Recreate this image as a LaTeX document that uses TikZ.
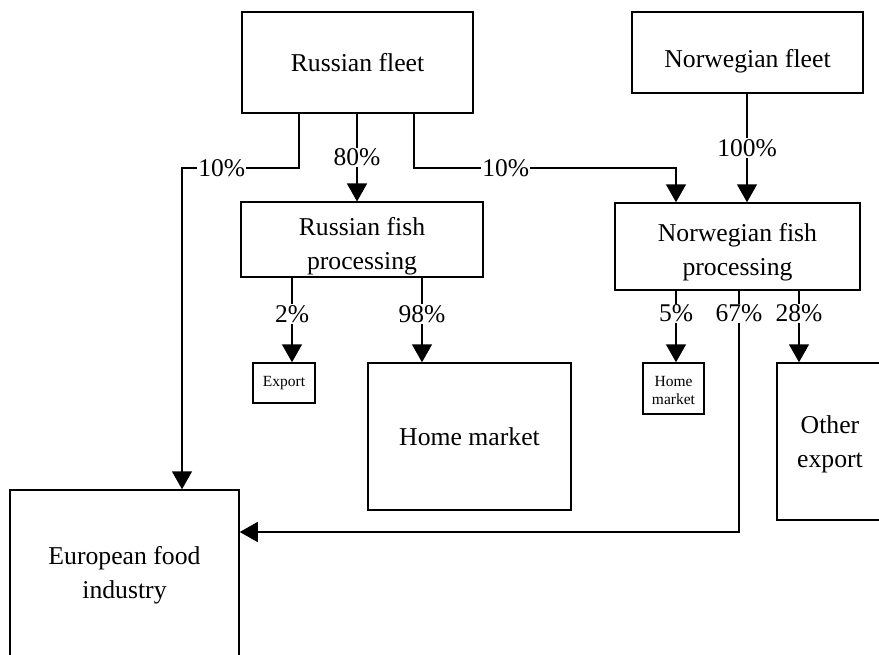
\documentclass[tikz,border=0pt]{standalone}
\usepackage{fontspec}
\setmainfont{Liberation Serif}
\usetikzlibrary{arrows.meta,calc,positioning}

\newcommand{\padtop}[1]{\rule{0pt}{#1}}

\tikzset{
  box/.style={draw,line width=1.5pt,align=center,inner sep=2pt,
    font=\fontsize{25.7}{34}\selectfont},
  smallbox/.style={box,font=\fontsize{15.5}{18}\selectfont},
  flow/.style={line width=1.5pt,-{Triangle[length=18pt,width=20pt]}},
  pct/.style={fill=white,inner sep=1pt,font=\fontsize{25.5}{30}\selectfont},
}

\begin{document}
\begin{tikzpicture}[x=1pt,y=-1pt]
  \clip (0,0) rectangle (879,654);
  % boxes
  \node[box,minimum width=231pt,minimum height=101pt] (rfleet) at (357.5,62.5) {Russian fleet};
  \node[box,minimum width=231pt,minimum height=81pt] (nfleet) at (747.5,52.5) {\padtop{35pt}Norwegian fleet};
  \node[box,minimum width=242pt,minimum height=73pt] (rproc) at (362,239.5) {\padtop{31pt}Russian fish\\processing};
  \node[box,minimum width=245pt,minimum height=87pt] (nproc) at (737.5,246.5) {\padtop{29pt}Norwegian fish\\processing};
  \node[smallbox,minimum width=62pt,minimum height=40pt] (rexport) at (284,383) {Export};
  \node[box,minimum width=203pt,minimum height=147pt] (rhome) at (469.5,436.5) {Home market};
  \node[smallbox,minimum width=61pt,minimum height=51pt] (nhome) at (673.5,388.5) {\padtop{15pt}Home\\market};
  \node[box,minimum width=106pt,minimum height=157pt] (nexport) at (830,441.5) {\padtop{23pt}Other\\export};
  \node[box,minimum width=229pt,minimum height=170pt] (efood) at (124.5,575) {European food\\industry};

  % split points
  \coordinate (split) at (0,168);
  \coordinate (rfL) at ([xshift=-58.5pt]rfleet.south);
  \coordinate (rfM) at ([xshift=-0.5pt]rfleet.south);
  \coordinate (rfR) at ([xshift=56.5pt]rfleet.south);
  \coordinate (nfM) at ([xshift=-0.5pt]nfleet.south);
  \coordinate (efT) at ([xshift=57.5pt]efood.north);
  \coordinate (npT) at ([xshift=-61.5pt]nproc.north);
  \coordinate (np67) at ([xshift=1.5pt]nproc.south);
  \coordinate (efR) at ([yshift=43pt]efood.east);

  % flows from the fleets
  \draw[flow] (rfL) -- (rfL |- split) -- (efT |- split) node[pct,pos=0.66]{10\%} -- (efT);
  \draw[flow] (rfM) -- (rfM |- rproc.north) node[pct,midway]{80\%};
  \draw[flow] (rfR) -- (rfR |- split) -- (npT |- split) node[pct,pos=0.35]{10\%} -- (npT);
  \draw[flow] (nfM) -- (nfM |- nproc.north) node[pct,midway]{100\%};

  % flows from processing
  \draw[flow] ([xshift=-70pt]rproc.south) -- ([xshift=8pt]rexport.north) node[pct,pos=0.43]{2\%};
  \draw[flow] ([xshift=60pt]rproc.south) -- ([xshift=-47.5pt]rhome.north) node[pct,pos=0.43]{98\%};
  \draw[flow] ([xshift=-61.5pt]nproc.south) -- ([xshift=2.5pt]nhome.north) node[pct,pos=0.32]{5\%};
  \draw[flow] (np67) |- (efR) node[pct,pos=0.047]{67\%};
  \draw[flow] ([xshift=61.5pt]nproc.south) -- ([xshift=-31pt]nexport.north) node[pct,pos=0.32]{28\%};
\end{tikzpicture}
\end{document}
